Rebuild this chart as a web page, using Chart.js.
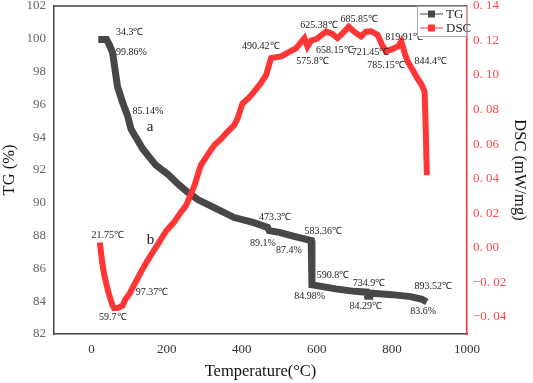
<!DOCTYPE html>
<html>
<head>
<meta charset="utf-8">
<script src="https://cdn.jsdelivr.net/npm/chart.js@4"></script>
<style>
  body { margin: 0; background: #fff; }
  #wrap { width: 533px; height: 383px; }
</style>
</head>
<body>
<div id="wrap"><canvas id="chart" width="533" height="383"></canvas></div>
<script>
// TG curve: temperature (°C) and mass (%)
const tgTemp = [18, 40, 48, 56, 62, 69, 83, 96, 105, 136, 171, 203, 230, 256, 283, 336, 380, 430, 469, 473, 500, 540, 585, 587, 600, 650, 700, 733, 735, 739, 741, 800, 850, 880, 893];
const tgMass = [99.95, 99.95, 99.6, 99.17, 98.2, 97.1, 96.1, 95.3, 94.5, 93.3, 92.3, 91.75, 91.15, 90.65, 90.2, 89.6, 89.1, 88.8, 88.5, 88.3, 88.2, 87.95, 87.7, 85.0, 84.95, 84.75, 84.6, 84.55, 84.3, 84.3, 84.5, 84.4, 84.28, 84.12, 83.95];

// DSC curve: temperature (°C) and heat flow (mW/mg)
const dscTemp = [22, 28, 34, 45, 55, 60, 70, 83, 90, 100, 115, 131, 149, 165, 185, 200, 220, 236, 252, 274, 291, 310, 327, 345, 362, 380, 389, 402, 420, 433, 450, 465, 478, 505, 545, 567, 575, 585, 600, 625, 640, 655, 668, 685, 700, 718, 730, 745, 762, 775, 785, 800, 816, 825, 835, 842, 855, 868, 880, 887, 890, 893];
const dscFlow = [0.003, -0.008, -0.016, -0.026, -0.033, -0.035, -0.035, -0.0335, -0.030, -0.027, -0.021, -0.0143, -0.0075, -0.002, 0.005, 0.010, 0.0148, 0.020, 0.0245, 0.036, 0.0477, 0.054, 0.0594, 0.063, 0.0671, 0.071, 0.0749, 0.0836, 0.087, 0.0904, 0.095, 0.100, 0.1098, 0.1108, 0.1156, 0.1214, 0.1166, 0.120, 0.121, 0.1253, 0.124, 0.1214, 0.124, 0.128, 0.125, 0.1224, 0.125, 0.1253, 0.1233, 0.117, 0.1137, 0.115, 0.1166, 0.1195, 0.112, 0.1078, 0.103, 0.0981, 0.094, 0.0904, 0.07, 0.042];

// tick labels
const xTicks = [0, 200, 400, 600, 800, 1000];
const tgTicks = [82, 84, 86, 88, 90, 92, 94, 96, 98, 100, 102];
const dscTicks = [-0.04, -0.02, 0, 0.02, 0.04, 0.06, 0.08, 0.10, 0.12, 0.14];

// annotation texts, anchored in (temperature, TG %) coordinates
const notes = [
    ['34.3℃', 65, 100.4], ['99.86%', 65, 99.2], ['85.14%', 109, 95.6],
    ['490.42℃', 401, 99.55], ['625.38℃', 556, 100.8], ['685.85℃', 663, 101.2],
    ['658.15℃', 598, 99.3], ['721.45℃', 693, 99.2], ['575.8℃', 545, 98.65],
    ['819.91℃', 782, 100.1], ['785.15℃', 734, 98.4], ['844.4℃', 860, 98.65],
    ['21.75℃', 0, 88.0], ['97.37℃', 118, 84.55], ['59.7℃', 20, 83.0],
    ['473.3℃', 446, 89.1], ['89.1%', 422, 87.5], ['87.4%', 491, 87.1],
    ['583.36℃', 567, 88.25], ['590.8℃', 600, 85.6], ['84.98%', 540, 84.27],
    ['734.9℃', 696, 85.1], ['84.29℃', 687, 83.67], ['893.52℃', 860, 84.9],
    ['83.6%', 849, 83.36]
];
const bigNotes = [['a', 147, 94.6], ['b', 147, 87.7]];

const tgColor = '#474747';
const dscColor = '#ff3636';

Chart.defaults.font.family = '"Liberation Serif", "Times New Roman", serif';

const annotate = {
    id: 'annotate',
    afterDatasetsDraw(chart) {
        const ctx = chart.ctx;
        const xs = chart.scales.x;
        const ys = chart.scales.y;
        ctx.save();
        ctx.fillStyle = '#222';
        ctx.textAlign = 'left';
        ctx.textBaseline = 'middle';
        ctx.font = '10px "Liberation Serif"';
        notes.forEach(([t, x, y]) => ctx.fillText(t, xs.getPixelForValue(x), ys.getPixelForValue(y)));
        ctx.font = '15px "Liberation Serif"';
        bigNotes.forEach(([t, x, y]) => ctx.fillText(t, xs.getPixelForValue(x), ys.getPixelForValue(y)));

        // top frame line
        const a = chart.chartArea;
        ctx.strokeStyle = '#444';
        ctx.lineWidth = 1.5;
        ctx.beginPath();
        ctx.moveTo(a.left, a.top);
        ctx.lineTo(a.right, a.top);
        ctx.stroke();

        // legend box in the top right corner
        const bw = 50, bh = 30;
        const bx = a.right - bw, by = a.top;
        ctx.fillStyle = '#fff';
        ctx.fillRect(bx, by, bw, bh);
        ctx.strokeStyle = '#aaa';
        ctx.lineWidth = 1;
        ctx.strokeRect(bx + 0.5, by + 0.5, bw - 1, bh);
        chart.data.datasets.forEach((ds, i) => {
            const cy = by + 8 + i * 14;
            ctx.strokeStyle = ds.borderColor;
            ctx.lineWidth = 1;
            ctx.beginPath();
            ctx.moveTo(bx + 3, cy);
            ctx.lineTo(bx + 26, cy);
            ctx.stroke();
            ctx.fillStyle = ds.borderColor;
            ctx.fillRect(bx + 11, cy - 3.5, 7, 7);
            ctx.fillStyle = '#222';
            ctx.font = '13px "Liberation Serif"';
            ctx.fillText(ds.label, bx + 29, cy + 1);
        });
        ctx.restore();
    }
};

function noOverhang(s) {
    s.paddingTop = 0;
    s.paddingBottom = 0;
}

new Chart(document.getElementById('chart'), {
    type: 'line',
    data: {
        datasets: [
            {
                label: 'TG',
                data: tgTemp.map((t, i) => ({ x: t, y: tgMass[i] })),
                yAxisID: 'y',
                borderColor: tgColor,
                backgroundColor: tgColor,
                borderWidth: 7,
                pointRadius: 0,
                tension: 0,
                order: 1
            },
            {
                label: 'DSC',
                data: dscTemp.map((t, i) => ({ x: t, y: dscFlow[i] })),
                yAxisID: 'y1',
                borderColor: dscColor,
                backgroundColor: dscColor,
                borderWidth: 6,
                pointRadius: 0,
                tension: 0,
                order: 0
            }
        ]
    },
    options: {
        responsive: false,
        animation: false,
        layout: { padding: { top: 6 } },
        plugins: { legend: { display: false }, tooltip: { enabled: false } },
        scales: {
            x: {
                type: 'linear',
                min: -100,
                max: 1000,
                afterBuildTicks: s => { s.ticks = xTicks.map(v => ({ value: v })); },
                afterFit: s => { s.height = 49; s.paddingLeft = 0; s.paddingRight = 0; },
                grid: { display: false, drawTicks: false },
                border: { color: '#444', width: 1.5 },
                ticks: { color: '#333', font: { size: 13 }, padding: 8, maxRotation: 0, callback: v => String(v) },
                title: { display: true, text: 'Temperature(°C)', color: '#111', font: { size: 16.5 }, padding: { top: 0, bottom: 1 } }
            },
            y: {
                position: 'left',
                min: 82,
                max: 102,
                afterBuildTicks: s => { s.ticks = tgTicks.map(v => ({ value: v })); },
                afterFit: s => { s.width = 54; noOverhang(s); },
                grid: { display: false, drawTicks: false },
                border: { color: '#444', width: 1.5 },
                ticks: { color: '#666', font: { size: 13 }, padding: 8 },
                title: { display: true, text: 'TG (%)', color: '#111', font: { size: 16.5 }, padding: 0 }
            },
            y1: {
                position: 'right',
                min: -0.05,
                max: 0.14,
                afterBuildTicks: s => { s.ticks = dscTicks.map(v => ({ value: v })); },
                afterFit: s => { s.width = 66; noOverhang(s); },
                grid: { display: false, drawTicks: false },
                border: { color: '#ff3030', width: 1.5 },
                ticks: {
                    color: '#ff4848',
                    font: { size: 13 },
                    padding: 6,
                    callback: v => (v < 0 ? '\u2212' : '') + Math.abs(v).toFixed(2).replace('.', '. ')
                },
                title: { display: true, text: 'DSC (mW/mg)', color: '#111', font: { size: 16.5 }, padding: { left: 0, right: 3 } }
            }
        }
    },
    plugins: [annotate]
});
</script>
</body>
</html>
